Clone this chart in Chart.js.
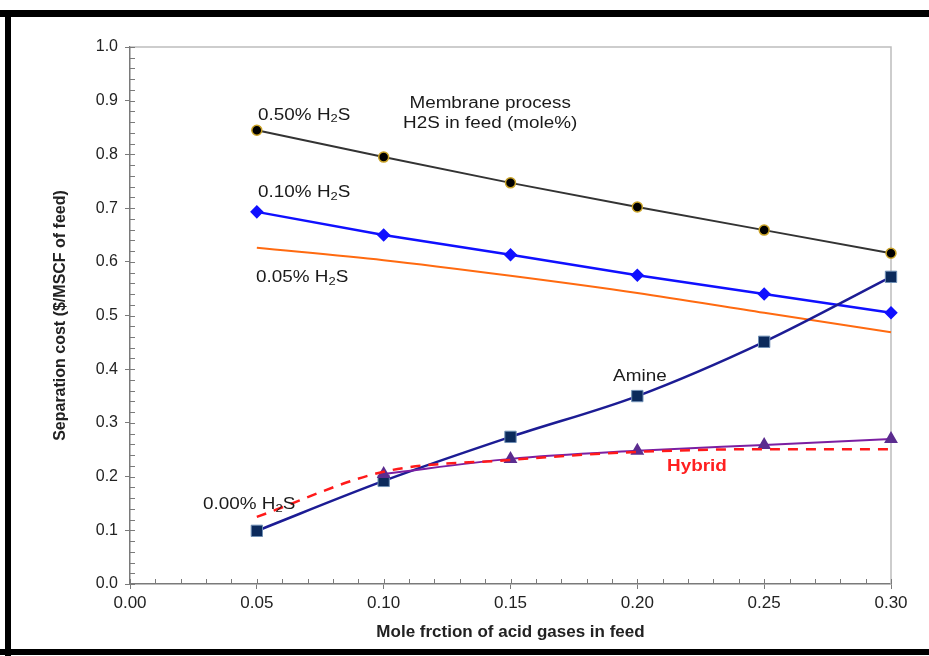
<!DOCTYPE html>
<html>
<head>
<meta charset="utf-8">
<script src="https://cdn.jsdelivr.net/npm/chart.js@4"></script>
<style>
  html, body { margin: 0; padding: 0; background: #fff; }
  #wrap { position: relative; width: 929px; height: 656px; }
</style>
</head>
<body>
<div id="wrap"><canvas id="chart"></canvas></div>
<script>
const xValues = [0.05, 0.10, 0.15, 0.20, 0.25, 0.30]
const h2s050 = [0.845, 0.795, 0.747, 0.702, 0.659, 0.616]
const h2s010 = [0.693, 0.650, 0.613, 0.575, 0.540, 0.505]
const h2s005 = [0.626, 0.603, 0.574, 0.542, 0.505, 0.469]
const amine = [0.099, 0.192, 0.274, 0.350, 0.451, 0.572]
const h2s000 = [0.125, 0.209, 0.231, 0.246, 0.251, 0.251]
const hybrid = [null, 0.205, 0.233, 0.248, 0.259, 0.270]

const textFont = "'Liberation Sans', Arial, sans-serif"
const axisColor = "#7a7a7a"

const pts = (ys) => xValues.map((x, i) => ({ x, y: ys[i] }))

// plot labels, placed in data units; "|" marks the subscript part
const notes = [
  { text: "0.50% H|2|S", x: 0.0505, y: 0.873, align: "left" },
  { text: "Membrane process", x: 0.142, y: 0.894, align: "center" },
  { text: "H2S in feed (mole%)", x: 0.142, y: 0.857, align: "center" },
  { text: "0.10% H|2|S", x: 0.0505, y: 0.728, align: "left" },
  { text: "0.05% H|2|S", x: 0.0497, y: 0.570, align: "left" },
  { text: "Amine", x: 0.201, y: 0.387, align: "center" },
  { text: "Hybrid", x: 0.2235, y: 0.218, align: "center", color: "#ff2020", bold: true },
  { text: "0.00% H|2|S", x: 0.0288, y: 0.147, align: "left" }
]

function drawNote(ctx, note, px, py) {
  const parts = note.text.split("|")
  const main = (note.bold ? "bold " : "") + "16px " + textFont
  const sub = "11px " + textFont
  ctx.save()
  ctx.translate(px, py)
  ctx.scale(1.18, 1)
  ctx.fillStyle = note.color || "#1a1a1a"
  ctx.textBaseline = "middle"
  ctx.textAlign = "left"
  let width = 0
  parts.forEach((p, i) => {
    ctx.font = i === 1 ? sub : main
    width += ctx.measureText(p).width
  })
  let x = note.align === "center" ? -width / 2 : 0
  parts.forEach((p, i) => {
    ctx.font = i === 1 ? sub : main
    ctx.fillText(p, x, i === 1 ? 4 : 0)
    x += ctx.measureText(p).width
  })
  ctx.restore()
}

const decorations = {
  id: "decorations",
  beforeDraw(chart) {
    const { ctx, width, height } = chart
    ctx.save()
    ctx.fillStyle = "#000"
    ctx.fillRect(0, 10, width, 7)
    ctx.fillRect(5, 10, 6, height - 10)
    ctx.fillRect(0, height - 7, width, 6)
    ctx.restore()
  },
  beforeDatasetsDraw(chart) {
    const { ctx, chartArea: a, scales: { x, y } } = chart
    ctx.save()
    // frame on top and right
    ctx.strokeStyle = "#bdbdbd"
    ctx.lineWidth = 1.5
    ctx.beginPath()
    ctx.moveTo(a.left, a.top)
    ctx.lineTo(a.right, a.top)
    ctx.lineTo(a.right, a.bottom)
    ctx.stroke()

    // minor and inner ticks
    ctx.strokeStyle = axisColor
    ctx.lineWidth = 1
    ctx.beginPath()
    for (let v = 0; v <= 100; v += 2) {
      const py = Math.round(y.getPixelForValue(v / 100)) + 0.5
      ctx.moveTo(a.left, py)
      ctx.lineTo(a.left + 5, py)
    }
    for (let v = 0; v <= 30; v += 1) {
      const px = Math.round(x.getPixelForValue(v / 100)) + 0.5
      ctx.moveTo(px, a.bottom)
      ctx.lineTo(px, a.bottom - 5)
    }
    ctx.stroke()
    ctx.restore()
  },
  afterDraw(chart) {
    const { ctx, scales: { x, y } } = chart
    notes.forEach((n) => drawNote(ctx, n, x.getPixelForValue(n.x), y.getPixelForValue(n.y)))
  }
}

new Chart(document.getElementById("chart"), {
  type: "line",
  data: {
    datasets: [
      {
        label: "0.00% H2S",
        data: pts(h2s000),
        borderColor: "#ff1a1a",
        borderWidth: 2.5,
        borderDash: [10, 8],
        pointRadius: 0,
        cubicInterpolationMode: "monotone",
        clip: false
      },
      {
        label: "Hybrid",
        data: pts(hybrid),
        borderColor: "#7b1fa2",
        borderWidth: 2,
        pointStyle: "triangle",
        pointRadius: 6,
        pointBackgroundColor: "#5b2c8f",
        pointBorderColor: "#5b2c8f",
        cubicInterpolationMode: "monotone",
        clip: false
      },
      {
        label: "Amine",
        data: pts(amine),
        borderColor: "#1c1c94",
        borderWidth: 2.5,
        pointStyle: "rect",
        pointRadius: 8,
        pointBackgroundColor: "#0b2a5c",
        pointBorderColor: "#6f8fb5",
        pointBorderWidth: 1,
        cubicInterpolationMode: "monotone",
        clip: false
      },
      {
        label: "0.05% H2S",
        data: pts(h2s005),
        borderColor: "#ff6a10",
        borderWidth: 2,
        pointRadius: 0,
        cubicInterpolationMode: "monotone",
        clip: false
      },
      {
        label: "0.10% H2S",
        data: pts(h2s010),
        borderColor: "#1010ff",
        borderWidth: 2.5,
        pointStyle: "rectRot",
        pointRadius: 5,
        pointBackgroundColor: "#1010ff",
        pointBorderColor: "#1010ff",
        clip: false
      },
      {
        label: "0.50% H2S",
        data: pts(h2s050),
        borderColor: "#333",
        borderWidth: 2,
        pointStyle: "circle",
        pointRadius: 5,
        pointBackgroundColor: "#000",
        pointBorderColor: "#c9a227",
        pointBorderWidth: 1.5,
        clip: false
      }
    ]
  },
  options: {
    responsive: true,
    maintainAspectRatio: false,
    animation: false,
    layout: { padding: { left: 0, top: 47, right: 38, bottom: 0 } },
    plugins: { legend: { display: false }, tooltip: { enabled: false } },
    scales: {
      x: {
        type: "linear",
        min: 0,
        max: 0.3,
        afterFit: (s) => { s.height = 72 },
        ticks: { stepSize: 0.05, padding: 4, color: "#222", font: { family: textFont, size: 17 }, callback: (v) => v.toFixed(2) },
        grid: { drawOnChartArea: false, tickLength: 5, color: axisColor },
        border: { color: axisColor, width: 1.5 },
        title: { display: true, text: "Mole frction of acid gases in feed", color: "#222", font: { family: textFont, size: 17, weight: "bold" }, padding: { top: 0, bottom: 13 } }
      },
      y: {
        min: 0,
        max: 1,
        afterFit: (s) => { s.width = 130 },
        ticks: { stepSize: 0.1, padding: 7, color: "#222", font: { family: textFont, size: 16 }, callback: (v) => v.toFixed(1) },
        grid: { drawOnChartArea: false, tickLength: 5, color: axisColor },
        border: { color: axisColor, width: 1.5 },
        title: { display: true, text: "Separation cost ($/MSCF of feed)", color: "#222", font: { family: textFont, size: 16, weight: "bold" }, padding: { top: 51, bottom: 0 } }
      }
    }
  },
  plugins: [decorations]
})
</script>
</body>
</html>
